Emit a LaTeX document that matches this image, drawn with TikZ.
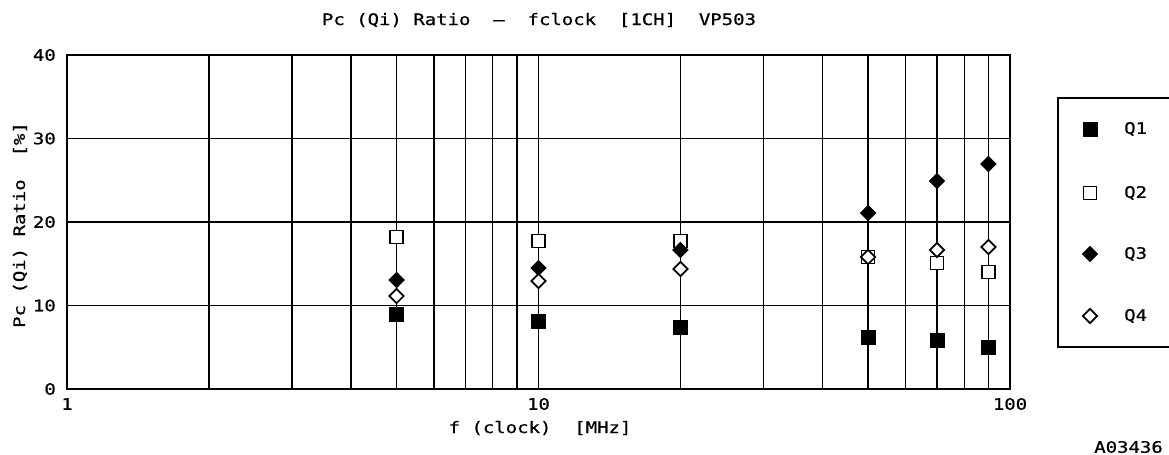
\documentclass[tikz,border=0pt]{standalone}
\usepackage{fontspec}
\newfontfamily\plotterfont[FakeStretch=1.2,FakeBold=0.8]{DejaVu Sans Mono}
\usetikzlibrary{shapes.geometric}

\begin{document}
\begin{tikzpicture}[
    x = 0.02cm,
    y = -0.02cm,
    font = \plotterfont\fontsize{9}{11}\selectfont,
    plotframe/.style = {black, line width = 1.1pt},
    gridline/.style = {black, line width = 0.7pt},
    qfull/.style = {
      draw,
      fill = black,
      rectangle,
      inner sep = 0pt,
      minimum size = 0.28cm,
      line width = 0.5pt
    },
    qopen/.style = {
      draw,
      fill = white,
      rectangle,
      inner sep = 0pt,
      minimum size = 0.26cm,
      line width = 1pt
    },
    dfull/.style = {
      draw,
      fill = black,
      diamond,
      inner sep = 0pt,
      minimum size = 0.31cm,
      line width = 0.5pt
    },
    dopen/.style = {
      draw,
      fill = white,
      diamond,
      inner sep = 0pt,
      minimum size = 0.30cm,
      line width = 1pt
    }
  ]
  \useasboundingbox (0,0) rectangle (1169,454);
  \coordinate (O) at (67,389);
  \scope[]
	% horizontal grid
	\draw[gridline] plot[] coordinates {(67,138.5) (1010,138.5)};
	\draw[gridline] plot[] coordinates {(67,222) (1010,222)};
	\draw[gridline] plot[] coordinates {(67,305.5) (1010,305.5)};

	% vertical grid, first decade
	\draw[gridline] plot[] coordinates {(208.9,55) (208.9,389)};
	\draw[gridline] plot[] coordinates {(292.0,55) (292.0,389)};
	\draw[gridline] plot[] coordinates {(350.9,55) (350.9,389)};
	\draw[gridline] plot[] coordinates {(396.6,55) (396.6,389)};
	\draw[gridline] plot[] coordinates {(433.9,55) (433.9,389)};
	\draw[gridline] plot[] coordinates {(465.5,55) (465.5,389)};
	\draw[gridline] plot[] coordinates {(492.8,55) (492.8,389)};
	\draw[gridline] plot[] coordinates {(516.9,55) (516.9,389)};
	\draw[gridline] plot[] coordinates {(538.5,55) (538.5,389)};

	% vertical grid, second decade
	\draw[gridline] plot[] coordinates {(680.4,55) (680.4,389)};
	\draw[gridline] plot[] coordinates {(763.5,55) (763.5,389)};
	\draw[gridline] plot[] coordinates {(822.4,55) (822.4,389)};
	\draw[gridline] plot[] coordinates {(868.1,55) (868.1,389)};
	\draw[gridline] plot[] coordinates {(905.4,55) (905.4,389)};
	\draw[gridline] plot[] coordinates {(937.0,55) (937.0,389)};
	\draw[gridline] plot[] coordinates {(964.3,55) (964.3,389)};
	\draw[gridline] plot[] coordinates {(988.4,55) (988.4,389)};

	% frame
	\draw[plotframe] (O) rectangle (1010,55);

	% legend box
	\draw[plotframe] plot[] coordinates {(1169,98) (1058,98) (1058,347) (1169,347)};
  \endscope

  % axis labels
  \node[anchor=east] (y40) at (62,55) {40};
  \node[anchor=east] (y30) at (62,138.5) {30};
  \node[anchor=east] (y20) at (62,222) {20};
  \node[anchor=east] (y10) at (62,305.5) {10};
  \node[anchor=east] (y0) at (62,389) {0};
  \node (x1) at (67,404) {1};
  \node (x10) at (538.5,404) {10};
  \node (x100) at (1010,404) {100};

  \node (title) at (539,20) {Pc (Qi) Ratio\ \ —\ \ fclock\ \ [1CH]\ \ VP503};
  \node (xlabel) at (540,428) {f (clock)\ \ [MHz]};
  \node[rotate=90] (ylabel) at (20,225) {Pc (Qi) Ratio\ \ [\%]};
  \node[anchor=east] (code) at (1169,447) {A03436};

  % 5 MHz
  \node[qopen] (q2a) at (396.6,237) {};
  \node[dfull] (q3a) at (396.6,280) {};
  \node[dopen] (q4a) at (396.6,296) {};
  \node[qfull] (q1a) at (396.6,314) {};
  % 10 MHz
  \node[qopen] (q2b) at (538.5,241) {};
  \node[dfull] (q3b) at (538.5,268) {};
  \node[dopen] (q4b) at (538.5,281) {};
  \node[qfull] (q1b) at (538.5,321) {};
  % 20 MHz
  \node[qopen] (q2c) at (680.4,241) {};
  \node[dfull] (q3c) at (680.4,250) {};
  \node[dopen] (q4c) at (680.4,269) {};
  \node[qfull] (q1c) at (680.4,327) {};
  % 50 MHz
  \node[qopen] (q2d) at (868.1,257) {};
  \node[dfull] (q3d) at (868.1,213) {};
  \node[dopen] (q4d) at (868.1,257) {};
  \node[qfull] (q1d) at (868.1,337) {};
  % 70 MHz
  \node[qopen] (q2e) at (937.0,263) {};
  \node[dfull] (q3e) at (937.0,181) {};
  \node[dopen] (q4e) at (937.0,250) {};
  \node[qfull] (q1e) at (937.0,340) {};
  % 90 MHz
  \node[qopen] (q2f) at (988.4,272) {};
  \node[dfull] (q3f) at (988.4,164) {};
  \node[dopen] (q4f) at (988.4,247) {};
  \node[qfull] (q1f) at (988.4,347) {};

  % legend
  \node[qfull] (key1) at (1090,129) {};
  \node[qopen] (key2) at (1090,193) {};
  \node[dfull] (key3) at (1090,254) {};
  \node[dopen] (key4) at (1090,316) {};
  \node[anchor=west] (name1) at (1118,129) {Q1};
  \node[anchor=west] (name2) at (1118,193) {Q2};
  \node[anchor=west] (name3) at (1118,254) {Q3};
  \node[anchor=west] (name4) at (1118,316) {Q4};
\end{tikzpicture}
\end{document}
